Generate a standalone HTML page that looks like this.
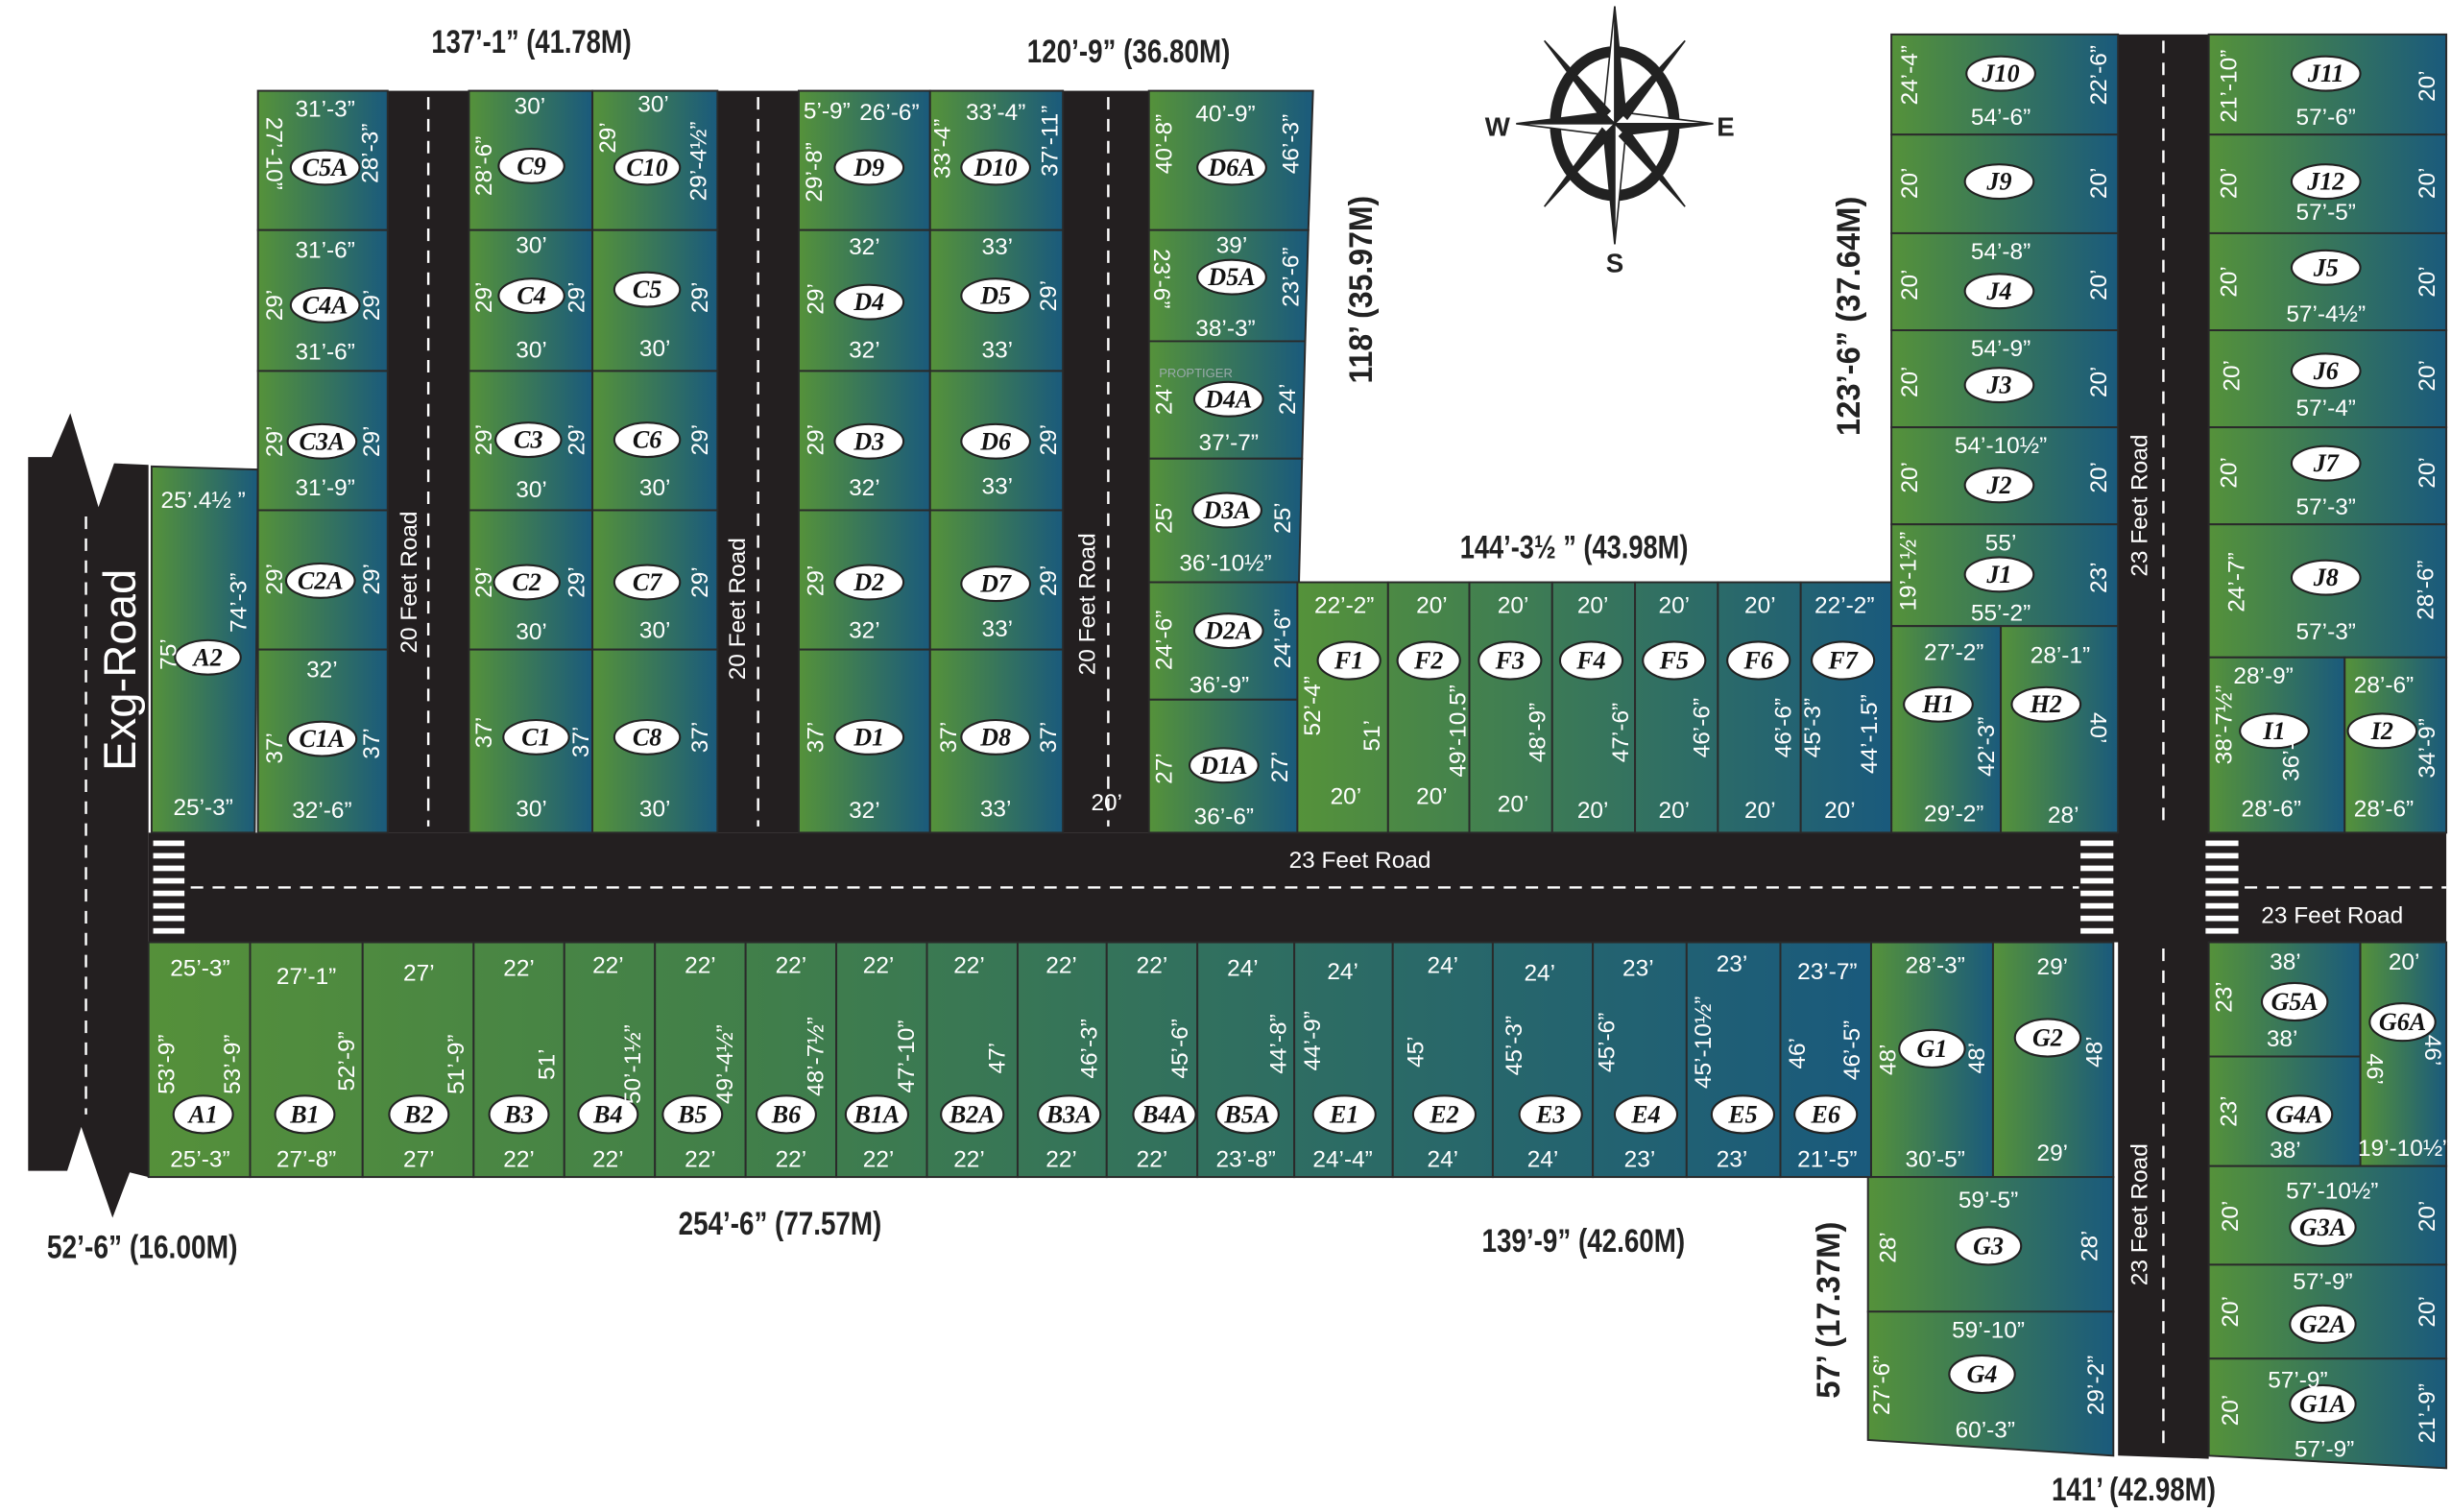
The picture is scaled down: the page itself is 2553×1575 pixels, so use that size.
<!DOCTYPE html>
<html><head><meta charset="utf-8"><style>
html,body{margin:0;padding:0;background:#fff;}
svg{display:block;}
.t{fill:#fff;font-family:"Liberation Sans Narrow","Liberation Sans",sans-serif;font-size:15px;text-anchor:middle;dominant-baseline:central;}
.o{fill:#fff;stroke:#222;stroke-width:1.3;}
.ol{fill:#111;font-family:"Liberation Serif",serif;font-weight:bold;font-style:italic;font-size:16px;text-anchor:middle;dominant-baseline:central;}
.p{stroke:#2a2a2a;stroke-width:1.2;}
.b{fill:#222;font-family:"Liberation Sans Narrow","Liberation Sans",sans-serif;font-weight:bold;font-size:21px;text-anchor:middle;dominant-baseline:central;}
.r{fill:#231f20;}
.d{stroke:#fff;stroke-width:1.5;stroke-dasharray:8 6;fill:none;}
</style></head><body>
<svg width="2553" height="1575" viewBox="0 0 1568 966" preserveAspectRatio="none" xmlns="http://www.w3.org/2000/svg">
<defs>
<linearGradient id="pg" x1="0" y1="0" x2="1" y2="0"><stop offset="0" stop-color="#55923a"/><stop offset="1" stop-color="#1a5a7c"/></linearGradient>
<linearGradient id="bg" gradientUnits="userSpaceOnUse" x1="95" y1="0" x2="1195" y2="0"><stop offset="0" stop-color="#55903a"/><stop offset="0.35" stop-color="#417f4a"/><stop offset="1" stop-color="#1a5a7c"/></linearGradient>
<linearGradient id="fg" gradientUnits="userSpaceOnUse" x1="830" y1="0" x2="1208" y2="0"><stop offset="0" stop-color="#55923a"/><stop offset="1" stop-color="#1a5a7c"/></linearGradient>
</defs>

<!-- Roads -->
<polygon class="r" points="18,292 33,292 45,264 63,324 73,296 95,297 95,752 83,749 72,778 52,720 43,748 18,748"/>
<line class="d" x1="55" y1="330" x2="55" y2="712"/>
<text class="t" style="font-size:29px" transform="translate(77,428) rotate(-90)">Exg-Road</text>
<rect class="r" x="95" y="532" width="1470" height="70"/>
<line class="d" x1="122" y1="567" x2="1330" y2="567"/>
<line class="d" x1="1436" y1="567" x2="1565" y2="567"/>
<rect class="r" x="248" y="58" width="52" height="474"/>
<line class="d" x1="274" y1="62" x2="274" y2="528"/>
<rect class="r" x="459" y="58" width="52" height="474"/>
<line class="d" x1="485" y1="62" x2="485" y2="528"/>
<rect class="r" x="680" y="58" width="55" height="474"/>
<line class="d" x1="709" y1="62" x2="709" y2="528"/>
<polygon class="r" points="1355,22 1413,22 1413,932 1355,930"/>
<line class="d" x1="1384" y1="26" x2="1384" y2="528"/>
<line class="d" x1="1384" y1="606" x2="1384" y2="928"/>
<g fill="#fff">
<rect x="98" y="537" width="20" height="3.5"/><rect x="98" y="545" width="20" height="3.5"/><rect x="98" y="553" width="20" height="3.5"/><rect x="98" y="561" width="20" height="3.5"/><rect x="98" y="569" width="20" height="3.5"/><rect x="98" y="577" width="20" height="3.5"/><rect x="98" y="585" width="20" height="3.5"/><rect x="98" y="593" width="20" height="3.5"/>
<rect x="1331" y="537" width="21" height="3.5"/><rect x="1331" y="545" width="21" height="3.5"/><rect x="1331" y="553" width="21" height="3.5"/><rect x="1331" y="561" width="21" height="3.5"/><rect x="1331" y="569" width="21" height="3.5"/><rect x="1331" y="577" width="21" height="3.5"/><rect x="1331" y="585" width="21" height="3.5"/><rect x="1331" y="593" width="21" height="3.5"/>
<rect x="1411" y="537" width="21" height="3.5"/><rect x="1411" y="545" width="21" height="3.5"/><rect x="1411" y="553" width="21" height="3.5"/><rect x="1411" y="561" width="21" height="3.5"/><rect x="1411" y="569" width="21" height="3.5"/><rect x="1411" y="577" width="21" height="3.5"/><rect x="1411" y="585" width="21" height="3.5"/><rect x="1411" y="593" width="21" height="3.5"/>
</g>
<text class="t" transform="translate(262,372) rotate(-90)">20 Feet Road</text>
<text class="t" transform="translate(472,389) rotate(-90)">20 Feet Road</text>
<text class="t" transform="translate(696,386) rotate(-90)">20 Feet Road</text>
<text class="t" x="708" y="513">20’</text>
<text class="t" x="870" y="550">23 Feet Road</text>
<text class="t" x="1492" y="585">23 Feet Road</text>
<text class="t" transform="translate(1369,323) rotate(-90)">23 Feet Road</text>
<text class="t" transform="translate(1369,776) rotate(-90)">23 Feet Road</text>

<g fill="url(#pg)" class="p">
<polygon points="97,298 165,300 163,532 97,532"/>
<rect x="165" y="58" width="83" height="89"/><rect x="165" y="147" width="83" height="90"/><rect x="165" y="237" width="83" height="89"/><rect x="165" y="326" width="83" height="89"/><rect x="165" y="415" width="83" height="117"/>
<rect x="300" y="58" width="79" height="89"/><rect x="379" y="58" width="80" height="89"/>
<rect x="300" y="147" width="79" height="90"/><rect x="379" y="147" width="80" height="90"/>
<rect x="300" y="237" width="79" height="89"/><rect x="379" y="237" width="80" height="89"/>
<rect x="300" y="326" width="79" height="89"/><rect x="379" y="326" width="80" height="89"/>
<rect x="300" y="415" width="79" height="117"/><rect x="379" y="415" width="80" height="117"/>
<rect x="511" y="58" width="84" height="89"/><rect x="595" y="58" width="85" height="89"/>
<rect x="511" y="147" width="84" height="90"/><rect x="595" y="147" width="85" height="90"/>
<rect x="511" y="237" width="84" height="89"/><rect x="595" y="237" width="85" height="89"/>
<rect x="511" y="326" width="84" height="89"/><rect x="595" y="326" width="85" height="89"/>
<rect x="511" y="415" width="84" height="117"/><rect x="595" y="415" width="85" height="117"/>
<polygon points="735,58 840,58 837,147 735,147"/>
<polygon points="735,147 837,147 835,218 735,218"/>
<polygon points="735,218 835,218 833,293 735,293"/>
<polygon points="735,293 833,293 831,372 735,372"/>
<rect x="735" y="372" width="95" height="75"/><rect x="735" y="447" width="95" height="85"/>
<rect x="1210" y="22" width="145" height="64"/><rect x="1210" y="86" width="145" height="63"/><rect x="1210" y="149" width="145" height="62"/><rect x="1210" y="211" width="145" height="62"/><rect x="1210" y="273" width="145" height="62"/><rect x="1210" y="335" width="145" height="65"/>
<rect x="1210" y="400" width="70" height="132"/><rect x="1280" y="400" width="75" height="132"/>
<rect x="1413" y="22" width="152" height="64"/><rect x="1413" y="86" width="152" height="63"/><rect x="1413" y="149" width="152" height="62"/><rect x="1413" y="211" width="152" height="62"/><rect x="1413" y="273" width="152" height="62"/><rect x="1413" y="335" width="152" height="85"/>
<rect x="1413" y="420" width="87" height="112"/><rect x="1500" y="420" width="65" height="112"/>
<rect x="1197" y="602" width="78" height="150"/><rect x="1275" y="602" width="77" height="150"/>
<rect x="1195" y="752" width="157" height="86"/>
<polygon points="1195,838 1352,838 1352,930 1195,920"/>
<rect x="1413" y="602" width="97" height="73"/><rect x="1510" y="602" width="55" height="143"/>
<rect x="1413" y="675" width="97" height="70"/>
<rect x="1413" y="745" width="152" height="63"/><rect x="1413" y="808" width="152" height="60"/>
<polygon points="1413,868 1565,868 1565,938 1413,930"/>
</g>
<g fill="url(#fg)" class="p">
<rect x="830" y="372" width="58" height="160"/><rect x="888" y="372" width="52" height="160"/><rect x="940" y="372" width="53" height="160"/><rect x="993" y="372" width="53" height="160"/><rect x="1046" y="372" width="53" height="160"/><rect x="1099" y="372" width="53" height="160"/><rect x="1152" y="372" width="58" height="160"/>
</g>
<g fill="url(#bg)" class="p">
<rect x="95" y="602" width="65" height="150"/><rect x="160" y="602" width="72" height="150"/><rect x="232" y="602" width="71" height="150"/><rect x="303" y="602" width="58" height="150"/><rect x="361" y="602" width="58" height="150"/><rect x="419" y="602" width="58" height="150"/><rect x="477" y="602" width="58" height="150"/><rect x="535" y="602" width="58" height="150"/><rect x="593" y="602" width="58" height="150"/><rect x="651" y="602" width="57" height="150"/><rect x="708" y="602" width="58" height="150"/><rect x="766" y="602" width="62" height="150"/><rect x="828" y="602" width="63" height="150"/><rect x="891" y="602" width="64" height="150"/><rect x="955" y="602" width="64" height="150"/><rect x="1019" y="602" width="60" height="150"/><rect x="1079" y="602" width="60" height="150"/><rect x="1139" y="602" width="58" height="150"/>
</g>

<g>
<g class="o"><ellipse cx="133" cy="420" rx="21" ry="11"/><ellipse cx="208" cy="107" rx="22" ry="11"/><ellipse cx="208" cy="195" rx="22" ry="11"/><ellipse cx="206" cy="282" rx="22" ry="11"/><ellipse cx="205" cy="371" rx="22" ry="11"/><ellipse cx="206" cy="472" rx="22" ry="11"/>
<ellipse cx="340" cy="106" rx="21" ry="11"/><ellipse cx="414" cy="107" rx="21" ry="11"/><ellipse cx="340" cy="189" rx="21" ry="11"/><ellipse cx="414" cy="185" rx="21" ry="11"/><ellipse cx="338" cy="281" rx="21" ry="11"/><ellipse cx="414" cy="281" rx="21" ry="11"/><ellipse cx="337" cy="372" rx="21" ry="11"/><ellipse cx="414" cy="372" rx="21" ry="11"/><ellipse cx="343" cy="471" rx="21" ry="11"/><ellipse cx="414" cy="471" rx="21" ry="11"/>
<ellipse cx="556" cy="107" rx="22" ry="11"/><ellipse cx="637" cy="107" rx="22" ry="11"/><ellipse cx="556" cy="193" rx="22" ry="11"/><ellipse cx="637" cy="189" rx="22" ry="11"/><ellipse cx="556" cy="282" rx="22" ry="11"/><ellipse cx="637" cy="282" rx="22" ry="11"/><ellipse cx="556" cy="372" rx="22" ry="11"/><ellipse cx="637" cy="373" rx="22" ry="11"/><ellipse cx="556" cy="471" rx="22" ry="11"/><ellipse cx="637" cy="471" rx="22" ry="11"/>
<ellipse cx="788" cy="107" rx="22" ry="11"/><ellipse cx="788" cy="177" rx="22" ry="11"/><ellipse cx="786" cy="255" rx="22" ry="11"/><ellipse cx="785" cy="326" rx="22" ry="11"/><ellipse cx="786" cy="403" rx="22" ry="11"/><ellipse cx="783" cy="489" rx="22" ry="11"/>
<ellipse cx="863" cy="422" rx="20" ry="12"/><ellipse cx="914" cy="422" rx="20" ry="12"/><ellipse cx="966" cy="422" rx="20" ry="12"/><ellipse cx="1018" cy="422" rx="20" ry="12"/><ellipse cx="1071" cy="422" rx="20" ry="12"/><ellipse cx="1125" cy="422" rx="20" ry="12"/><ellipse cx="1179" cy="422" rx="20" ry="12"/>
<ellipse cx="1280" cy="47" rx="22" ry="11"/><ellipse cx="1279" cy="116" rx="22" ry="11"/><ellipse cx="1279" cy="186" rx="22" ry="11"/><ellipse cx="1279" cy="246" rx="22" ry="11"/><ellipse cx="1279" cy="310" rx="22" ry="11"/><ellipse cx="1279" cy="367" rx="22" ry="11"/><ellipse cx="1240" cy="450" rx="22" ry="11"/><ellipse cx="1309" cy="450" rx="22" ry="11"/>
<ellipse cx="1488" cy="47" rx="22" ry="11"/><ellipse cx="1488" cy="116" rx="22" ry="11"/><ellipse cx="1488" cy="171" rx="22" ry="11"/><ellipse cx="1488" cy="237" rx="22" ry="11"/><ellipse cx="1488" cy="296" rx="22" ry="11"/><ellipse cx="1488" cy="369" rx="22" ry="11"/><ellipse cx="1455" cy="467" rx="22" ry="11"/><ellipse cx="1524" cy="467" rx="22" ry="11"/>
<ellipse cx="130" cy="712" rx="19" ry="12"/><ellipse cx="195" cy="712" rx="19" ry="12"/><ellipse cx="268" cy="712" rx="19" ry="12"/><ellipse cx="332" cy="712" rx="19" ry="12"/><ellipse cx="389" cy="712" rx="19" ry="12"/><ellipse cx="443" cy="712" rx="19" ry="12"/><ellipse cx="503" cy="712" rx="19" ry="12"/><ellipse cx="561" cy="712" rx="20" ry="12"/><ellipse cx="622" cy="712" rx="20" ry="12"/><ellipse cx="684" cy="712" rx="20" ry="12"/><ellipse cx="745" cy="712" rx="20" ry="12"/><ellipse cx="798" cy="712" rx="20" ry="12"/><ellipse cx="860" cy="712" rx="20" ry="12"/><ellipse cx="924" cy="712" rx="20" ry="12"/><ellipse cx="992" cy="712" rx="20" ry="12"/><ellipse cx="1053" cy="712" rx="20" ry="12"/><ellipse cx="1115" cy="712" rx="20" ry="12"/><ellipse cx="1168" cy="712" rx="20" ry="12"/>
<ellipse cx="1236" cy="670" rx="21" ry="12"/><ellipse cx="1310" cy="663" rx="21" ry="12"/><ellipse cx="1272" cy="796" rx="21" ry="12"/><ellipse cx="1268" cy="878" rx="21" ry="12"/>
<ellipse cx="1468" cy="640" rx="21" ry="12"/><ellipse cx="1537" cy="653" rx="21" ry="12"/><ellipse cx="1471" cy="712" rx="21" ry="12"/><ellipse cx="1486" cy="784" rx="21" ry="12"/><ellipse cx="1486" cy="846" rx="21" ry="12"/><ellipse cx="1486" cy="897" rx="21" ry="12"/>
</g>
<g class="ol">
<text x="133" y="420">A2</text><text x="208" y="107">C5A</text><text x="208" y="195">C4A</text><text x="206" y="282">C3A</text><text x="205" y="371">C2A</text><text x="206" y="472">C1A</text>
<text x="340" y="106">C9</text><text x="414" y="107">C10</text><text x="340" y="189">C4</text><text x="414" y="185">C5</text><text x="338" y="281">C3</text><text x="414" y="281">C6</text><text x="337" y="372">C2</text><text x="414" y="372">C7</text><text x="343" y="471">C1</text><text x="414" y="471">C8</text>
<text x="556" y="107">D9</text><text x="637" y="107">D10</text><text x="556" y="193">D4</text><text x="637" y="189">D5</text><text x="556" y="282">D3</text><text x="637" y="282">D6</text><text x="556" y="372">D2</text><text x="637" y="373">D7</text><text x="556" y="471">D1</text><text x="637" y="471">D8</text>
<text x="788" y="107">D6A</text><text x="788" y="177">D5A</text><text x="786" y="255">D4A</text><text x="785" y="326">D3A</text><text x="786" y="403">D2A</text><text x="783" y="489">D1A</text>
<text x="863" y="422">F1</text><text x="914" y="422">F2</text><text x="966" y="422">F3</text><text x="1018" y="422">F4</text><text x="1071" y="422">F5</text><text x="1125" y="422">F6</text><text x="1179" y="422">F7</text>
<text x="1280" y="47">J10</text><text x="1279" y="116">J9</text><text x="1279" y="186">J4</text><text x="1279" y="246">J3</text><text x="1279" y="310">J2</text><text x="1279" y="367">J1</text><text x="1240" y="450">H1</text><text x="1309" y="450">H2</text>
<text x="1488" y="47">J11</text><text x="1488" y="116">J12</text><text x="1488" y="171">J5</text><text x="1488" y="237">J6</text><text x="1488" y="296">J7</text><text x="1488" y="369">J8</text><text x="1455" y="467">I1</text><text x="1524" y="467">I2</text>
<text x="130" y="712">A1</text><text x="195" y="712">B1</text><text x="268" y="712">B2</text><text x="332" y="712">B3</text><text x="389" y="712">B4</text><text x="443" y="712">B5</text><text x="503" y="712">B6</text><text x="561" y="712">B1A</text><text x="622" y="712">B2A</text><text x="684" y="712">B3A</text><text x="745" y="712">B4A</text><text x="798" y="712">B5A</text><text x="860" y="712">E1</text><text x="924" y="712">E2</text><text x="992" y="712">E3</text><text x="1053" y="712">E4</text><text x="1115" y="712">E5</text><text x="1168" y="712">E6</text>
<text x="1236" y="670">G1</text><text x="1310" y="663">G2</text><text x="1272" y="796">G3</text><text x="1268" y="878">G4</text>
<text x="1468" y="640">G5A</text><text x="1537" y="653">G6A</text><text x="1471" y="712">G4A</text><text x="1486" y="784">G3A</text><text x="1486" y="846">G2A</text><text x="1486" y="897">G1A</text>
</g>
</g>

<g class="t">
<text x="130" y="320">25’.4½ ”</text><text x="130" y="516">25’-3”</text>
<text x="208" y="70">31’-3”</text><text x="208" y="160">31’-6”</text><text x="208" y="225">31’-6”</text><text x="208" y="312">31’-9”</text><text x="206" y="428">32’</text><text x="206" y="518">32’-6”</text>
<text x="339" y="68">30’</text><text x="418" y="67">30’</text><text x="340" y="157">30’</text><text x="340" y="224">30’</text><text x="419" y="223">30’</text><text x="340" y="313">30’</text><text x="419" y="312">30’</text><text x="340" y="404">30’</text><text x="419" y="403">30’</text><text x="340" y="517">30’</text><text x="419" y="517">30’</text>
<text x="529" y="71">5’-9”</text><text x="569" y="72">26’-6”</text><text x="637" y="72">33’-4”</text>
<text x="553" y="158">32’</text><text x="553" y="224">32’</text><text x="553" y="312">32’</text><text x="553" y="403">32’</text><text x="553" y="518">32’</text>
<text x="638" y="158">33’</text><text x="638" y="224">33’</text><text x="638" y="311">33’</text><text x="638" y="402">33’</text><text x="637" y="517">33’</text>
<text x="784" y="73">40’-9”</text><text x="788" y="157">39’</text><text x="784" y="210">38’-3”</text><text x="786" y="283">37’-7”</text><text x="784" y="360">36’-10½”</text><text x="780" y="438">36’-9”</text><text x="783" y="522">36’-6”</text>
<text x="860" y="387">22’-2”</text><text x="916" y="387">20’</text><text x="968" y="387">20’</text><text x="1019" y="387">20’</text><text x="1071" y="387">20’</text><text x="1126" y="387">20’</text><text x="1180" y="387">22’-2”</text>
<text x="861" y="509">20’</text><text x="916" y="509">20’</text><text x="968" y="514">20’</text><text x="1019" y="518">20’</text><text x="1071" y="518">20’</text><text x="1126" y="518">20’</text><text x="1177" y="518">20’</text>
<text x="1280" y="75">54’-6”</text><text x="1280" y="161">54’-8”</text><text x="1280" y="223">54’-9”</text><text x="1280" y="285">54’-10½”</text><text x="1280" y="347">55’</text><text x="1280" y="392">55’-2”</text>
<text x="1250" y="417">27’-2”</text><text x="1318" y="419">28’-1”</text><text x="1250" y="520">29’-2”</text><text x="1320" y="521">28’</text>
<text x="1488" y="75">57’-6”</text><text x="1488" y="136">57’-5”</text><text x="1488" y="201">57’-4½”</text><text x="1488" y="261">57’-4”</text><text x="1488" y="324">57’-3”</text><text x="1488" y="404">57’-3”</text>
<text x="1448" y="432">28’-9”</text><text x="1525" y="438">28’-6”</text><text x="1453" y="517">28’-6”</text><text x="1525" y="517">28’-6”</text>
<text x="128" y="619">25’-3”</text><text x="196" y="624">27’-1”</text><text x="268" y="622">27’</text><text x="332" y="619">22’</text><text x="389" y="617">22’</text><text x="448" y="617">22’</text><text x="506" y="617">22’</text><text x="562" y="617">22’</text><text x="620" y="617">22’</text><text x="679" y="617">22’</text><text x="737" y="617">22’</text><text x="795" y="619">24’</text><text x="859" y="621">24’</text><text x="923" y="617">24’</text><text x="985" y="622">24’</text><text x="1048" y="619">23’</text><text x="1108" y="616">23’</text><text x="1169" y="621">23’-7”</text>
<text x="128" y="741">25’-3”</text><text x="196" y="741">27’-8”</text><text x="268" y="741">27’</text><text x="332" y="741">22’</text><text x="389" y="741">22’</text><text x="448" y="741">22’</text><text x="506" y="741">22’</text><text x="562" y="741">22’</text><text x="620" y="741">22’</text><text x="679" y="741">22’</text><text x="737" y="741">22’</text><text x="797" y="741">23’-8”</text><text x="859" y="741">24’-4”</text><text x="923" y="741">24’</text><text x="987" y="741">24’</text><text x="1049" y="741">23’</text><text x="1108" y="741">23’</text><text x="1169" y="741">21’-5”</text>
<text x="1238" y="617">28’-3”</text><text x="1313" y="618">29’</text><text x="1238" y="741">30’-5”</text><text x="1313" y="737">29’</text>
<text x="1272" y="767">59’-5”</text><text x="1272" y="850">59’-10”</text><text x="1270" y="914">60’-3”</text>
<text x="1462" y="615">38’</text><text x="1538" y="615">20’</text><text x="1460" y="664">38’</text><text x="1462" y="735">38’</text><text x="1538" y="734">19’-10½”</text>
<text x="1492" y="761">57’-10½”</text><text x="1486" y="819">57’-9”</text><text x="1470" y="882">57’-9”</text><text x="1487" y="926">57’-9”</text>
</g>

<g class="t">
<text transform="translate(153,385) rotate(-90)">74’-3”</text><text transform="translate(108,418) rotate(-90)">75’</text>
<text transform="translate(175,98) rotate(90)">27’-10”</text><text transform="translate(237,98) rotate(-90)">28’-3”</text>
<text transform="translate(176,195) rotate(-90)">29’</text><text transform="translate(238,195) rotate(-90)">29’</text>
<text transform="translate(176,282) rotate(-90)">29’</text><text transform="translate(238,282) rotate(-90)">29’</text>
<text transform="translate(176,370) rotate(-90)">29’</text><text transform="translate(238,370) rotate(-90)">29’</text>
<text transform="translate(176,478) rotate(-90)">37’</text><text transform="translate(238,475) rotate(-90)">37’</text>
<text transform="translate(310,106) rotate(-90)">28’-6”</text><text transform="translate(389,88) rotate(-90)">29’</text><text transform="translate(447,103) rotate(-90)">29’-4½”</text>
<text transform="translate(310,190) rotate(-90)">29’</text><text transform="translate(369,190) rotate(-90)">29’</text><text transform="translate(448,190) rotate(-90)">29’</text>
<text transform="translate(310,281) rotate(-90)">29’</text><text transform="translate(369,281) rotate(-90)">29’</text><text transform="translate(448,281) rotate(-90)">29’</text>
<text transform="translate(310,372) rotate(-90)">29’</text><text transform="translate(369,372) rotate(-90)">29’</text><text transform="translate(448,372) rotate(-90)">29’</text>
<text transform="translate(310,468) rotate(-90)">37’</text><text transform="translate(372,474) rotate(-90)">37’</text><text transform="translate(448,471) rotate(-90)">37’</text>
<text transform="translate(521,110) rotate(-90)">29’-8”</text><text transform="translate(603,95) rotate(-90)">33’-4”</text><text transform="translate(672,90) rotate(-90)">37’-11”</text>
<text transform="translate(522,191) rotate(-90)">29’</text><text transform="translate(671,189) rotate(-90)">29’</text>
<text transform="translate(522,281) rotate(-90)">29’</text><text transform="translate(671,281) rotate(-90)">29’</text>
<text transform="translate(522,371) rotate(-90)">29’</text><text transform="translate(671,371) rotate(-90)">29’</text>
<text transform="translate(522,471) rotate(-90)">37’</text><text transform="translate(607,471) rotate(-90)">37’</text><text transform="translate(671,471) rotate(-90)">37’</text>
<text transform="translate(745,92) rotate(-90)">40’-8”</text><text transform="translate(826,92) rotate(-90)">46’-3”</text>
<text transform="translate(743,178) rotate(90)">23’-6”</text><text transform="translate(826,177) rotate(-90)">23’-6”</text>
<text transform="translate(745,255) rotate(-90)">24’</text><text transform="translate(824,255) rotate(-90)">24’</text>
<text transform="translate(745,331) rotate(-90)">25’</text><text transform="translate(821,331) rotate(-90)">25’</text>
<text transform="translate(745,409) rotate(-90)">24’-6”</text><text transform="translate(821,408) rotate(-90)">24’-6”</text>
<text transform="translate(745,491) rotate(-90)">27’</text><text transform="translate(819,490) rotate(-90)">27’</text>
<text transform="translate(840,451) rotate(-90)">52’-4”</text><text transform="translate(878,470) rotate(-90)">51’</text><text transform="translate(933,467) rotate(-90)">49’-10.5”</text><text transform="translate(984,468) rotate(-90)">48’-9”</text><text transform="translate(1037,468) rotate(-90)">47’-6”</text><text transform="translate(1089,465) rotate(-90)">46’-6”</text><text transform="translate(1141,465) rotate(-90)">46’-6”</text><text transform="translate(1160,465) rotate(-90)">45’-3”</text><text transform="translate(1196,469) rotate(-90)">44’-1.5”</text>
<text transform="translate(1222,48) rotate(-90)">24’-4”</text><text transform="translate(1343,48) rotate(-90)">22’-6”</text>
<text transform="translate(1222,117) rotate(-90)">20’</text><text transform="translate(1343,117) rotate(-90)">20’</text>
<text transform="translate(1222,182) rotate(-90)">20’</text><text transform="translate(1343,182) rotate(-90)">20’</text>
<text transform="translate(1222,244) rotate(-90)">20’</text><text transform="translate(1343,244) rotate(-90)">20’</text>
<text transform="translate(1222,305) rotate(-90)">20’</text><text transform="translate(1343,305) rotate(-90)">20’</text>
<text transform="translate(1221,365) rotate(-90)">19’-1½”</text><text transform="translate(1343,369) rotate(-90)">23’</text>
<text transform="translate(1271,477) rotate(-90)">42’-3”</text><text transform="translate(1342,465) rotate(90)">40’</text>
<text transform="translate(1426,55) rotate(-90)">21’-10”</text><text transform="translate(1553,55) rotate(-90)">20’</text>
<text transform="translate(1426,117) rotate(-90)">20’</text><text transform="translate(1553,117) rotate(-90)">20’</text>
<text transform="translate(1426,180) rotate(-90)">20’</text><text transform="translate(1553,180) rotate(-90)">20’</text>
<text transform="translate(1428,240) rotate(-90)">20’</text><text transform="translate(1553,240) rotate(-90)">20’</text>
<text transform="translate(1426,302) rotate(-90)">20’</text><text transform="translate(1553,302) rotate(-90)">20’</text>
<text transform="translate(1431,372) rotate(-90)">24’-7”</text><text transform="translate(1552,377) rotate(-90)">28’-6”</text>
<text transform="translate(1423,463) rotate(-90)">38’-7½”</text><text transform="translate(1466,480) rotate(-90)">36’-8”</text><text transform="translate(1553,478) rotate(-90)">34’-9”</text>
<text transform="translate(107,680) rotate(-90)">53’-9”</text><text transform="translate(149,680) rotate(-90)">53’-9”</text><text transform="translate(222,678) rotate(-90)">52’-9”</text><text transform="translate(292,680) rotate(-90)">51’-9”</text><text transform="translate(350,680) rotate(-90)">51’</text><text transform="translate(405,680) rotate(-90)">50’-1½”</text><text transform="translate(464,680) rotate(-90)">49’-4½”</text><text transform="translate(522,675) rotate(-90)">48’-7½”</text><text transform="translate(580,675) rotate(-90)">47’-10”</text><text transform="translate(638,676) rotate(-90)">47’</text><text transform="translate(697,670) rotate(-90)">46’-3”</text><text transform="translate(755,670) rotate(-90)">45’-6”</text><text transform="translate(818,667) rotate(-90)">44’-8”</text><text transform="translate(840,665) rotate(-90)">44’-9”</text><text transform="translate(906,672) rotate(-90)">45’</text><text transform="translate(969,668) rotate(-90)">45’-3”</text><text transform="translate(1028,666) rotate(-90)">45’-6”</text><text transform="translate(1090,666) rotate(-90)">45’-10½”</text><text transform="translate(1150,673) rotate(-90)">46’</text><text transform="translate(1185,671) rotate(-90)">46’-5”</text>
<text transform="translate(1208,677) rotate(-90)">48’</text><text transform="translate(1265,676) rotate(-90)">48’</text><text transform="translate(1340,672) rotate(-90)">48’</text>
<text transform="translate(1208,797) rotate(-90)">28’</text><text transform="translate(1337,796) rotate(-90)">28’</text>
<text transform="translate(1204,885) rotate(-90)">27’-6”</text><text transform="translate(1341,885) rotate(-90)">29’-2”</text>
<text transform="translate(1423,637) rotate(-90)">23’</text><text transform="translate(1519,683) rotate(90)">46’</text><text transform="translate(1556,671) rotate(90)">46’</text><text transform="translate(1426,710) rotate(-90)">23’</text>
<text transform="translate(1427,777) rotate(-90)">20’</text><text transform="translate(1553,777) rotate(-90)">20’</text>
<text transform="translate(1427,838) rotate(-90)">20’</text><text transform="translate(1553,838) rotate(-90)">20’</text>
<text transform="translate(1427,901) rotate(-90)">20’</text><text transform="translate(1553,903) rotate(-90)">21’-9”</text>
</g>
<text x="765" y="241" style="font-family:'Liberation Sans',sans-serif;font-size:8px;fill:#9aa" text-anchor="middle">PROPTIGER</text>

<g class="b">
<text x="340" y="27" textLength="128" lengthAdjust="spacingAndGlyphs">137’-1” (41.78M)</text>
<text x="722" y="33" textLength="130" lengthAdjust="spacingAndGlyphs">120’-9” (36.80M)</text>
<text x="1007" y="350" textLength="146" lengthAdjust="spacingAndGlyphs">144’-3½ ” (43.98M)</text>
<text transform="translate(871,185) rotate(-90)" textLength="120" lengthAdjust="spacingAndGlyphs">118’ (35.97M)</text>
<text transform="translate(1183,202) rotate(-90)" textLength="153" lengthAdjust="spacingAndGlyphs">123’-6” (37.64M)</text>
<text x="91" y="797" textLength="122" lengthAdjust="spacingAndGlyphs">52’-6” (16.00M)</text>
<text x="499" y="782" textLength="130" lengthAdjust="spacingAndGlyphs">254’-6” (77.57M)</text>
<text x="1013" y="793" textLength="130" lengthAdjust="spacingAndGlyphs">139’-9” (42.60M)</text>
<text transform="translate(1170,837) rotate(-90)" textLength="113" lengthAdjust="spacingAndGlyphs">57’ (17.37M)</text>
<text x="1365" y="952" textLength="105" lengthAdjust="spacingAndGlyphs">141’ (42.98M)</text>
</g>

<g transform="translate(1033,79)">
<ellipse cx="0" cy="0" rx="38" ry="46" fill="none" stroke="#222" stroke-width="7"/>
<g fill="#222" stroke="#222" stroke-width="1">
<polygon points="0,-75 7,-7 0,0"/><polygon points="0,-75 -7,-7 0,0" fill="#fff"/>
<polygon points="0,77 -7,7 0,0"/><polygon points="0,77 7,7 0,0" fill="#fff"/>
<polygon points="-63,0 -7,-7 0,0"/><polygon points="-63,0 -7,7 0,0" fill="#fff"/>
<polygon points="63,0 7,7 0,0"/><polygon points="63,0 7,-7 0,0" fill="#fff"/>
<polygon points="-45,-53 -3,-8 -8,-3"/><polygon points="45,-53 3,-8 8,-3"/>
<polygon points="-45,53 -3,8 -8,3"/><polygon points="45,53 3,8 8,3"/>
</g>
<text x="-75" y="2" class="b" style="font-family:'Liberation Sans',sans-serif;font-size:17px">W</text>
<text x="71" y="2" class="b" style="font-family:'Liberation Sans',sans-serif;font-size:17px">E</text>
<text x="0" y="89" class="b" style="font-family:'Liberation Sans',sans-serif;font-size:17px">S</text>
</g>
</svg>
</body></html>
